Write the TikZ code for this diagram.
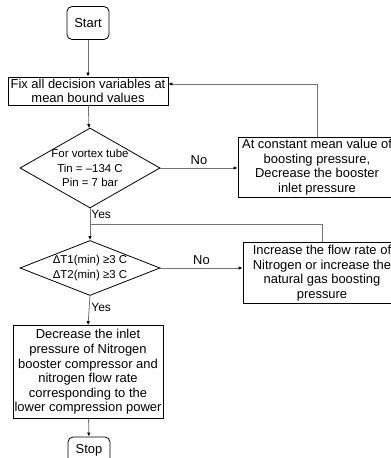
\documentclass[tikz,border=0pt]{standalone}
\usepackage{fontspec}
\setmainfont{Liberation Sans}
\usetikzlibrary{shapes.geometric,arrows.meta}

\begin{document}
\begin{tikzpicture}[x=1bp,y=-1bp,
    every node/.style={font=\fontsize{13}{14.7}\selectfont, align=center},
    box/.style={draw, line width=0.8bp, rectangle, inner sep=0pt},
    term/.style={draw, line width=0.8bp, rounded corners=5bp, minimum width=42bp},
    decide/.style={draw, line width=0.8bp, diamond, inner xsep=-8bp, inner ysep=-5bp, minimum width=140bp,
        font=\fontsize{11.5}{14.5}\selectfont},
    link/.style={draw=black!55, line width=0.8bp},
    flow/.style={link, -{Latex[color=black, length=4bp, width=3.5bp]}}]
%\draw [help lines, step=10] (0,0) grid (390,458);
    \useasboundingbox (0,0) rectangle (390,458);
    \node[term, minimum height=33bp] (start) at (88,23) {Start};
    \node[box, minimum width=160bp, minimum height=28bp] (fix) at (88,91) {Fix all decision variables at\\mean bound values};
    \node[decide, aspect=1.75, minimum height=80bp] (vortex) at (90,168) {For vortex tube\\Tin = –134 C\\Pin = 7 bar};
    \node[box, minimum width=158bp, minimum height=60bp] (booster) at (317,167) {At constant mean value of\\boosting pressure,\\Decrease the booster\\inlet pressure};
    \node[decide, aspect=2.55, minimum height=55bp] (dT) at (90,268) {ΔT1(min) ≥3 C\\ΔT2(min) ≥3 C};
    \node[box, minimum width=158bp, minimum height=61bp] (flowrate) at (322,273) {Increase the flow rate of\\Nitrogen or increase the\\natural gas boosting\\pressure};
    \node[box, minimum width=150bp, minimum height=93bp] (lower) at (88,372) {Decrease the inlet\\pressure of Nitrogen\\booster compressor and\\nitrogen flow rate\\corresponding to the\\lower compression power};
    \node[term, minimum height=26bp] (stop) at (89,450) {Stop};
    \path (vortex.south) ++(0,16) coordinate (join);
    \draw[flow] (start) -- (fix);
    \draw[flow] (fix) -- (vortex);
    \draw[flow] (vortex.east) -- node[above] {No} (vortex.east -| booster.west);
    \draw[flow] (booster.north) |- ([yshift=7bp]fix.east);
    \draw[flow] (vortex.south) node[below right, inner sep=1bp, font=\fontsize{12}{14}\selectfont] {Yes} -- (dT.north);
    \draw[link] (flowrate.north) |- (join);
    \draw[flow] (dT.east) -- node[above] {No} (dT.east -| flowrate.west);
    \draw[flow] (dT.south) node[below right, inner sep=1bp, yshift=-6bp, font=\fontsize{12}{14}\selectfont] {Yes} -- (lower.north);
    \draw[flow] (lower) -- (stop);
\end{tikzpicture}
\end{document}
